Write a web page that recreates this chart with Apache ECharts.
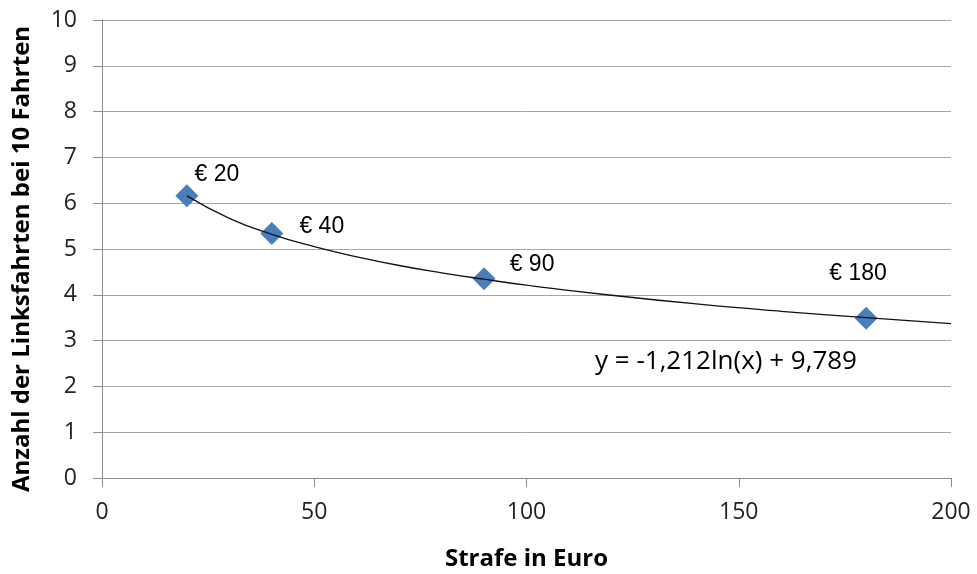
<!DOCTYPE html>
<html>
<head>
<meta charset="utf-8">
<script src="https://cdn.jsdelivr.net/npm/echarts@6/dist/echarts.min.js"></script>
<style>
html,body{margin:0;padding:0;background:#fff;}
#chart{width:977px;height:574px;}
</style>
</head>
<body>
<div id="chart"></div>
<script>
// Data
var penalties = [20, 40, 90, 180];
var leftTurns = [6.16, 5.34, 4.35, 3.49];
var pointLabels = ['€ 20', '€ 40', '€ 90', '€ 180'];
// Logarithmic trend line
var trendX = [20, 30, 40, 50, 60, 70, 80, 90, 100, 120, 140, 160, 180, 200];
var trendY = [6.16, 5.67, 5.32, 5.05, 4.83, 4.64, 4.48, 4.34, 4.21, 3.99, 3.80, 3.64, 3.50, 3.37];
var equationText = 'y = -1,212ln(x) + 9,789';
var xTitle = 'Strafe in Euro';
var yTitle = 'Anzahl der Linksfahrten bei 10 Fahrten';

var labelOffsets = [[30, -21], [50, -7], [48, -14], [-8, -45]];

var chart = echarts.init(document.getElementById('chart'), null, {renderer: 'canvas'});
var scatterData = penalties.map(function (x, i) {
  return {
    value: [x, leftTurns[i]],
    label: {
      show: true,
      formatter: pointLabels[i],
      position: 'inside',
      offset: labelOffsets[i]
    }
  };
});
var trendData = trendX.map(function (x, i) { return [x, trendY[i]]; });

var tickFont = '"Open Sans", Lato, sans-serif';
chart.setOption({
  animation: false,
  backgroundColor: '#ffffff',
  grid: {left: 102, right: 26, top: 20, bottom: 96, outerBoundsMode: 'none', containLabel: false},
  xAxis: {
    type: 'value', min: 0, max: 200, interval: 50,
    name: xTitle, nameLocation: 'middle', nameGap: 69,
    nameTextStyle: {fontFamily: tickFont, fontWeight: 'bold', fontSize: 24, color: '#000'},
    axisLine: {show: true, lineStyle: {color: '#8c8c8c', width: 1}},
    axisTick: {show: true, length: 9, lineStyle: {color: '#8c8c8c'}},
    axisLabel: {fontFamily: tickFont, fontSize: 23, color: '#222', margin: 23},
    splitLine: {show: false}
  },
  yAxis: {
    type: 'value', min: 0, max: 10, interval: 1,
    axisLine: {show: true, lineStyle: {color: '#8c8c8c', width: 1}},
    axisTick: {show: true, length: 9, inside: false, lineStyle: {color: '#8c8c8c'}},
    axisLabel: {fontFamily: tickFont, fontSize: 23, color: '#222', margin: 25},
    splitLine: {show: true, lineStyle: {color: '#a6a6a6', width: 1}}
  },
  series: [
    {
      type: 'line',
      data: trendData,
      smooth: true,
      symbol: 'none',
      lineStyle: {color: '#111', width: 1.3},
      z: 3
    },
    {
      type: 'scatter',
      data: scatterData,
      symbol: 'diamond',
      symbolSize: [23, 23],
      itemStyle: {color: '#4a7ebb', opacity: 1},
      label: {
        fontFamily: '"Liberation Sans", Arial, sans-serif',
        fontSize: 23,
        color: '#000'
      },
      z: 2
    }
  ],
  graphic: [
    {
      type: 'text',
      x: 22,
      y: 259,
      rotation: Math.PI / 2,
      style: {
        text: yTitle,
        font: 'bold 24px "Open Sans", Lato, sans-serif',
        fill: '#000',
        align: 'center',
        verticalAlign: 'middle'
      }
    },
    {
      type: 'text',
      left: 595,
      top: 349,
      style: {
        text: equationText,
        font: '26px "Open Sans", "Liberation Sans", sans-serif',
        fill: '#000'
      }
    }
  ]
});
</script>
</body>
</html>
